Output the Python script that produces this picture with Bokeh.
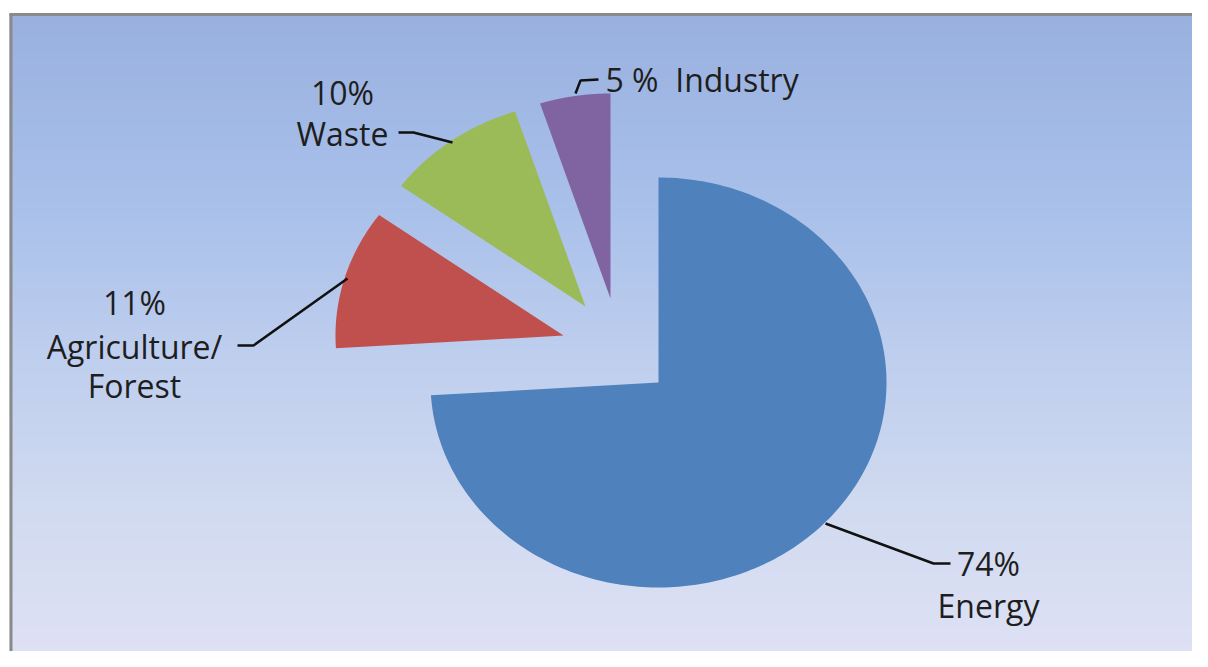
import numpy as np
from bokeh.plotting import figure
from bokeh.models import Range1d
from bokeh.embed import file_html
from bokeh.resources import INLINE
from bokeh.core.properties import value

# ---- data ----
categories = ["Energy", "Agriculture/|Forest", "Waste", "Industry"]
shares = [74, 11, 10, 5]
pct_labels = ["74%", "11%", "10%", "5 %"]
colors = ["#4F81BD", "#C0504D", "#9BBB59", "#8064A2"]

# ---- layout (picture pixel coordinates, y downward) ----
W, H = 1192, 651
X0, Y0 = 0, 0
p = figure(width=W, height=H, x_range=Range1d(X0, X0 + W), y_range=Range1d(Y0 + H, Y0),
           output_backend="svg", toolbar_location=None, min_border=0)
p.axis.visible = False
p.grid.visible = False
p.outline_line_color = None
p.background_fill_color = "white"
p.border_fill_color = "white"

# gradient background of chart area
stops_y = np.array([13, 200, 350, 500, 667])
stops_c = np.array([[154, 177, 224], [168, 192, 234], [190, 206, 238],
                    [208, 218, 240], [224, 226, 245]])
edges = np.arange(13, 664, 4)
tops, bottoms, cols = [], [], []
for a, b in zip(edges[:-1], edges[1:]):
    m = (a + b) / 2
    c = [int(np.interp(m, stops_y, stops_c[:, k])) for k in range(3)]
    tops.append(a)
    bottoms.append(b + 0.6)
    cols.append("#%02x%02x%02x" % tuple(c))
p.quad(left=9, right=X0 + W + 2, top=tops, bottom=bottoms, fill_color=cols, line_color=None)

# frame border (top and left)
p.line(x=[9, X0 + W + 2], y=[14, 14], line_color="#8a8a8a", line_width=3)
p.line(x=[10.5, 10.5], y=[13, Y0 + H + 2], line_color="#8a8a8a", line_width=3)

# exploded pie slices (elliptical, stretched horizontally)
vertices = [(658, 382), (563, 335), (585, 306), (610, 298)]
RX, RY = 228, 205
cum = np.concatenate([[0], np.cumsum(shares)]) / sum(shares) * 360.0
xs_list, ys_list = [], []
for i in range(len(shares)):
    cx, cy = vertices[i]
    th = np.radians(np.linspace(cum[i], cum[i + 1], 240))
    xs_list.append([cx] + list(cx + RX * np.sin(th)))
    ys_list.append([cy] + list(cy - RY * np.cos(th)))
p.patches(xs_list, ys_list, fill_color=colors, line_color=None)

# leader lines
leaders = [
    ([825, 933, 950], [523, 563, 563]),
    ([237, 253, 347], [345, 345, 278]),
    ([398, 413, 452], [132, 132, 142]),
    ([575, 580, 598], [93, 80, 79]),
]
for lx, ly in leaders:
    p.line(lx, ly, line_color="#111111", line_width=2.5)

# labels
font = value("Open Sans")
fs = "32px"
tcol = "#1e1e1e"
label_pos = [
    (988, [563, 605]),
    (134, [302, 346, 385]),
    (342, [92, 133]),
]
for i, (x, ys) in enumerate(label_pos):
    lines = [pct_labels[i]] + categories[i].split("|")
    p.text(x=[x] * len(lines), y=ys, text=lines, text_font=font,
           text_font_size=fs, text_color=tcol, text_align="center",
           text_baseline="alphabetic")
p.text(x=[605], y=[79], text=[pct_labels[3] + "\u00a0\u00a0" + categories[3]],
       text_font=font, text_font_size=fs, text_color=tcol,
       text_align="left", text_baseline="alphabetic")

open("out.html", "w").write(file_html(p, INLINE))
